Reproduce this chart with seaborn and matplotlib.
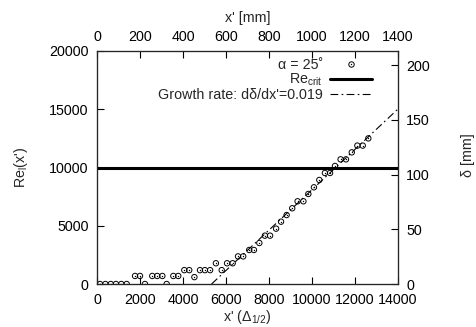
import matplotlib
matplotlib.use("Agg")
import matplotlib.pyplot as plt
import seaborn as sns
import numpy as np
import pandas as pd
from matplotlib.lines import Line2D
from matplotlib.legend_handler import HandlerTuple

# ---- data ----
x_delta = [140, 390, 640, 880, 1130, 1380, 1770, 2000, 2230, 2570,
           2800, 3040, 3240, 3550, 3780, 4060, 4290, 4530, 4790, 5020,
           5260, 5530, 5800, 6050, 6310, 6560, 6800, 7080, 7300, 7550,
           7810, 8050, 8330, 8560, 8820, 9080, 9330, 9600, 9830, 10090,
           10340, 10600, 10840, 11070, 11330, 11580, 11850, 12110, 12360, 12620]
re_l = [0, 0, 0, 0, 0, 0, 690, 690, 0, 690,
        690, 690, 0, 690, 690, 1190, 1190, 590, 1190, 1190,
        1190, 1780, 1190, 1780, 1780, 2370, 2370, 2920, 2920, 3520,
        4150, 4150, 4750, 5350, 5920, 6500, 7100, 7100, 7730, 8300,
        8930, 9530, 9530, 10130, 10700, 10700, 11300, 11880, 11880, 12500]
re_crit = 10000
growth_x = [5330, 14000]      # x' (Delta_1/2) end points of growth line
growth_delta = [0, 160]       # delta [mm]

x_ticks = [0, 2000, 4000, 6000, 8000, 10000, 12000, 14000]
mm_ticks = [0, 200, 400, 600, 800, 1000, 1200, 1400]
re_ticks = [0, 5000, 10000, 15000, 20000]
delta_ticks = [0, 50, 100, 150, 200]

df = pd.DataFrame({"x": x_delta, "re": re_l})
gdf = pd.DataFrame({"x": growth_x, "d": growth_delta})

FS = 10.3
sns.set_theme(style="white")
plt.rcParams["font.family"] = ["Liberation Sans", "DejaVu Sans"]
plt.rcParams["font.size"] = FS
plt.rcParams["axes.linewidth"] = 0.8

fig = plt.figure(figsize=(4.76, 3.27), dpi=100)
ax = fig.add_axes([97/476, 1-284/327, (398-97)/476, (284-51)/327])

sns.scatterplot(data=df, x="x", y="re", ax=ax, marker="o", s=15,
                facecolor="none", edgecolor="black", linewidth=0.7, zorder=3)
sns.scatterplot(data=df, x="x", y="re", ax=ax, marker="o", s=1.0,
                color="black", linewidth=0, zorder=4)
ax.axhline(re_crit, color="black", lw=2.2, zorder=2)

ax.set_xlim(0, 14000)
ax.set_ylim(0, 20000)
ax.set_xticks(x_ticks)
ax.set_yticks(re_ticks)
ax.tick_params(axis="both", direction="in", length=5, width=0.8, colors="black",
               labelsize=FS, top=False, right=False)
ax.tick_params(axis="x", pad=6.5)
ax.tick_params(axis="y", pad=6)
ax.set_xlabel("x' (Δ$_\\mathregular{1/2}$)", fontsize=FS)
ax.set_ylabel("Re$_\\mathregular{l}$(x')", fontsize=FS)
ax.xaxis.set_label_coords(0.5, -0.102)
ax.yaxis.set_label_coords(-0.222, 0.5)
for s in ax.spines.values():
    s.set_color("black")

axt = ax.twiny()
axt.set_xlim(0, 1400)
axt.set_xticks(mm_ticks)
axt.tick_params(axis="x", direction="in", length=5, width=0.8, colors="black",
                labelsize=FS, pad=5)
axt.set_xlabel("x' [mm]", fontsize=FS)
axt.xaxis.set_label_coords(0.5, 1.125)

axr = ax.twinx()
sns.lineplot(data=gdf, x="x", y="d", ax=axr, color="black", lw=0.8,
             dashes=False, zorder=2)
axr.lines[0].set_dashes((7, 3, 1.5, 3))
axr.set_ylim(0, 213)
axr.set_xlim(0, 14000)
axr.set_yticks(delta_ticks)
axr.tick_params(axis="y", direction="in", length=5, width=0.8, colors="black",
                labelsize=FS, pad=6)
axr.set_ylabel("δ [mm]", fontsize=FS)
axr.yaxis.set_label_coords(1.21, 0.553)
axr.set_xlabel("")

h_circ = Line2D([], [], marker="o", ls="none", mfc="none", mec="black", ms=3.9, mew=0.7)
h_dot = Line2D([], [], marker="o", ls="none", color="black", ms=1.0, mew=0)
h_crit = Line2D([], [], color="black", lw=2.2)
h_grow = Line2D([], [], color="black", lw=0.8, dashes=(7, 3, 1.5, 3))
leg = ax.legend([(h_circ, h_dot), h_crit, h_grow],
                ["α = 25˚", "Re$_\\mathregular{crit}$", "Growth rate: dδ/dx'=0.019"],
                handler_map={tuple: HandlerTuple(ndivide=1, pad=0)},
                loc="upper right", bbox_to_anchor=(0.912, 0.972),
                frameon=False, markerfirst=False, borderaxespad=0, borderpad=0,
                handlelength=2.9, handletextpad=0.5, labelspacing=0.0,
                fontsize=FS)
leg.set_zorder(10)

fig.savefig("out.png", dpi=100, facecolor="white")
